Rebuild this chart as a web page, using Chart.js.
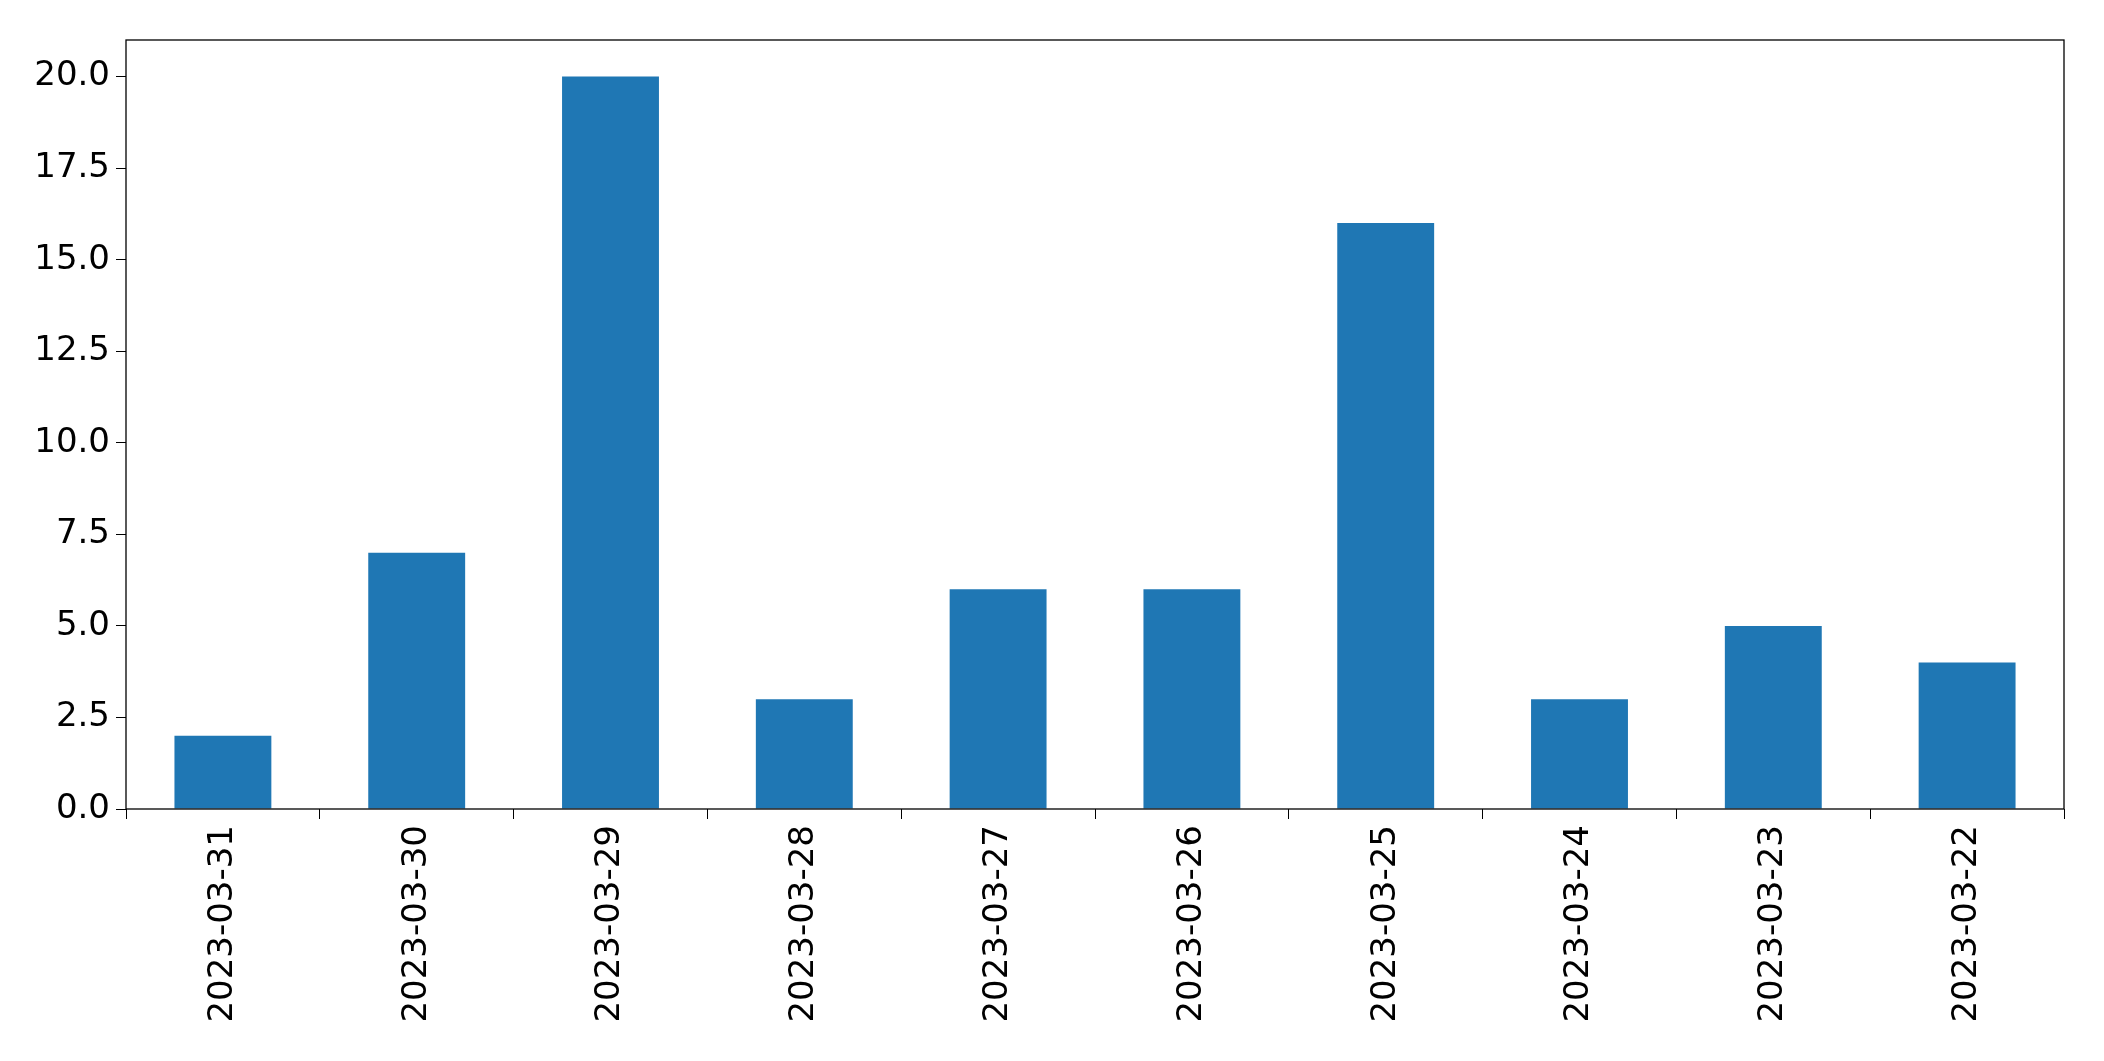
<!DOCTYPE html>
<html>
<head>
<meta charset="utf-8">
<script src="https://cdn.jsdelivr.net/npm/chart.js@4"></script>
<style>
  body { margin: 0; background: #fff; }
  #c { display: block; }
</style>
</head>
<body>
<canvas id="c" width="2104" height="1061"></canvas>
<script>
const dates = ['2023-03-31', '2023-03-30', '2023-03-29', '2023-03-28', '2023-03-27',
               '2023-03-26', '2023-03-25', '2023-03-24', '2023-03-23', '2023-03-22'];
const counts = [2, 7, 20, 3, 6, 6, 16, 3, 5, 4];
const y_ticks = [0, 2.5, 5, 7.5, 10, 12.5, 15, 17.5, 20];

// box around the plot area, like matplotlib spines
const frame = {
    id: 'frame',
    afterDraw(chart) {
        const a = chart.chartArea;
        const ctx = chart.ctx;
        ctx.save();
        ctx.strokeStyle = '#000';
        ctx.lineWidth = 1.3;
        ctx.strokeRect(a.left, a.top, a.right - a.left, a.bottom - a.top);
        ctx.restore();
    }
};

const font = { family: 'DejaVu Sans', size: 34 };

new Chart(document.getElementById('c').getContext('2d'), {
    type: 'bar',
    data: {
        labels: dates,
        datasets: [{
            data: counts,
            backgroundColor: '#1f77b4',
            categoryPercentage: 1.0,
            barPercentage: 0.5
        }]
    },
    options: {
        responsive: false,
        animation: false,
        layout: { padding: { top: 40, right: 40, left: 0, bottom: 0 } },
        plugins: { legend: { display: false }, tooltip: { enabled: false } },
        scales: {
            x: {
                grid: { drawOnChartArea: false, drawTicks: true, tickLength: 10, color: '#000' },
                border: { display: false },
                ticks: { color: '#000', font: font, maxRotation: 90, minRotation: 90, padding: 6 },
                afterFit(s) { s.height = 252; }
            },
            y: {
                min: 0,
                max: 21,
                grid: { drawOnChartArea: false, drawTicks: true, tickLength: 10, color: '#000' },
                border: { display: false },
                afterBuildTicks(s) { s.ticks = y_ticks.map(v => ({ value: v })); },
                ticks: { color: '#000', font: font, padding: 6, callback: v => v.toFixed(1) },
                afterFit(s) { s.width = 126; }
            }
        }
    },
    plugins: [frame]
});
</script>
</body>
</html>
